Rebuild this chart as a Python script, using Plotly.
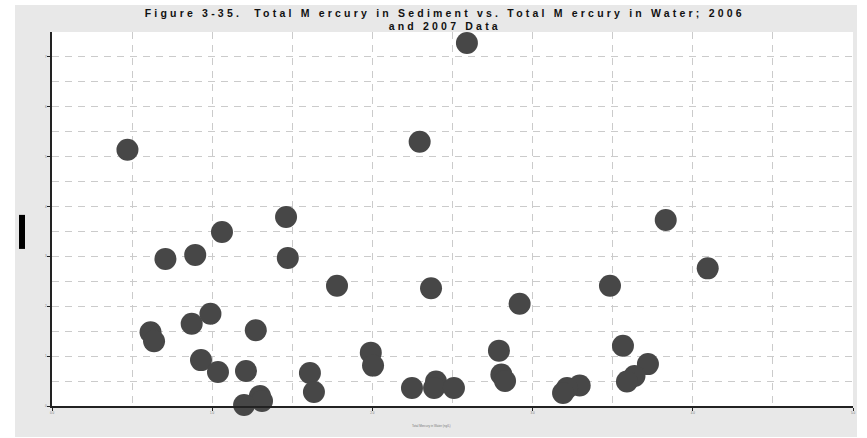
import plotly.graph_objects as go

# Total mercury in water (x) vs. total mercury in sediment (y), 2006 and 2007
hg_water = [0.471, 2.590, 2.295, 3.831, 1.461, 1.061, 0.708, 0.894, 1.472, 4.093,
            1.779, 2.366, 3.483, 2.919, 0.989, 0.872, 0.615, 0.637, 1.272, 3.564,
            1.990, 2.004, 2.790, 0.930, 1.036, 1.211, 1.610, 1.635, 3.720, 3.636,
            3.589, 2.805, 2.828, 2.247, 2.397, 2.385, 2.509, 3.294, 3.215, 3.190,
            1.298, 1.311, 1.199]
hg_sediment = [5.14, 7.28, 5.30, 3.73, 3.79, 3.49, 2.95, 3.03, 2.97, 2.76,
               2.41, 2.36, 2.41, 2.05, 1.85, 1.65, 1.48, 1.30, 1.52, 1.21,
               1.07, 0.81, 1.11, 0.92, 0.68, 0.70, 0.66, 0.28, 0.84, 0.60,
               0.49, 0.63, 0.50, 0.36, 0.49, 0.36, 0.36, 0.41, 0.36, 0.26,
               0.20, 0.10, 0.02]

x_ticks = [0, 1, 2, 3, 4, 5]
x_labels = ["0.0", "1.0", "2.0", "3.0", "4.0", "5.0"]
y_ticks = [0, 1, 2, 3, 4, 5, 6, 7]
y_labels = ["0", "1", "2", "3", "4", "5", "6", "7"]

TITLE_1 = "Figure 3-35.  Total M ercury in Sediment vs. Total M ercury in Water; 2006"
TITLE_2 = "and 2007 Data"
SPACED = "<span style='letter-spacing:3.2px'>{}</span>"

GRID = dict(showgrid=True, gridcolor="#cbcbcb", gridwidth=1, griddash="7px,6px")

fig = go.Figure(go.Scatter(
    x=hg_water, y=hg_sediment, mode="markers", cliponaxis=False,
    marker=dict(size=22, color="#474747", line_width=0),
))

fig.update_layout(
    width=867, height=438,
    paper_bgcolor="white", plot_bgcolor="white",
    margin=dict(l=52, r=14, t=32, b=32),
    showlegend=False,
    font=dict(family="Liberation Sans, Arial, sans-serif", color="#111"),
    title=dict(
        text=SPACED.format(TITLE_1) + "<br>" + SPACED.format(TITLE_2),
        x=0.513, xanchor="center", yref="container", y=0.962, yanchor="top",
        font=dict(size=10.5, weight="bold", color="#111"),
    ),
    xaxis=dict(
        range=[0, 5], tickvals=x_ticks, ticktext=x_labels,
        ticks="outside", ticklen=3, tickcolor="#222",
        tickfont=dict(size=3, color="#777"),
        showline=True, linecolor="#222", linewidth=1.5, zeroline=False,
        minor=dict(dtick=0.5, showgrid=True, gridcolor="#cbcbcb", griddash="7px,6px"),
        **GRID,
    ),
    yaxis=dict(
        range=[0, 7.5], tickvals=y_ticks, ticktext=y_labels,
        ticks="outside", ticklen=3, tickcolor="#222",
        tickfont=dict(size=3, color="#777"),
        showline=True, linecolor="#222", linewidth=1.5, zeroline=False,
        minor=dict(dtick=0.5, showgrid=True, gridcolor="#cbcbcb", griddash="7px,6px"),
        **GRID,
    ),
    shapes=[
        # grey chart panel behind the plot
        dict(type="rect", xref="paper", yref="paper", layer="below",
             x0=-0.0462, x1=1.005, y0=-0.083, y1=1.072,
             fillcolor="#e8e8e8", line_width=0),
        dict(type="rect", xref="paper", yref="paper", layer="below",
             x0=0, x1=1, y0=0, y1=1, fillcolor="white", line_width=0),
        # y-axis title as rendered (solid block)
        dict(type="rect", xref="paper", yref="paper",
             x0=-0.0412, x1=-0.0337, y0=0.42, y1=0.511,
             fillcolor="black", line_width=0),
    ],
    annotations=[
        dict(text="Total Mercury in Water (ng/L)", xref="paper", yref="paper",
             x=(431 - 52) / 801, y=-0.065, showarrow=False,
             font=dict(size=3, color="#777")),
    ],
)

fig.write_html("out.html", config={"displayModeBar": False},
               post_script="document.body.style.margin = '0px';")
